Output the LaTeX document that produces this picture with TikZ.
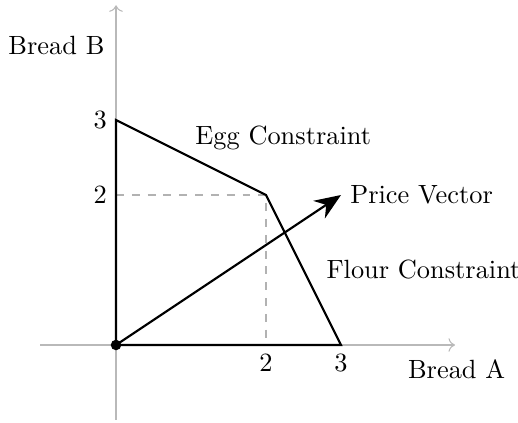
\documentclass[tikz,border=0pt]{standalone}
\usepackage{tikz}
\usetikzlibrary{arrows.meta}

\begin{document}
\begin{tikzpicture}[
    axis/.style={->, gray!55},
    guide/.style={dashed, gray!60},
    region/.style={thick, black},
  ]
        \useasboundingbox (-1.547,-1.027) rectangle (5.36,4.6);
        \coordinate (O) at (0,0);
        \coordinate (eggtop) at (0,3);
        \coordinate (corner) at (2,2);
        \coordinate (flourend) at (3,0);
        \coordinate (price) at (3,2);
        \draw[axis] (-1.01,0) -- (4.52,0);
        \draw[axis] (0,-1) -- (0,4.53);
        \node[left] (lblB) at (-0.03,4) {Bread B};
        \node[anchor=west] (lblA) at (3.77,-0.32) {Bread A};
        \draw[guide] (0,2) -- (corner) -- (2,0);
        \node[left] (y3) at (0,3) {$3$};
        \node[left] (y2) at (0,2) {$2$};
        \node[below] (x2) at (2,0) {$2$};
        \node[below] (x3) at (3,0) {$3$};
        \draw[region] (O) -- (eggtop) -- (corner) -- (flourend) -- cycle;
        \draw[thick, -{Stealth[length=10pt,width=8pt]}] (O) -- (price);
        \fill (O) circle (2pt);
        \node[right] (pv) at (price) {Price Vector};
        \node (egg) at (2.23,2.76) {Egg Constraint};
        \node (flour) at (4.1,1) {Flour Constraint};
      \end{tikzpicture}
\end{document}
